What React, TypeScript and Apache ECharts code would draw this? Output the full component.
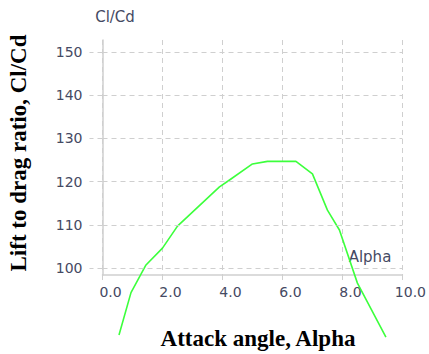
import React, { useEffect, useRef } from "react";
import * as echarts from "echarts";

const alpha = [0.55, 0.95, 1.45, 2.0, 2.5, 3.9, 4.2, 5.0, 5.5, 6.45, 7.0, 7.5, 7.9, 8.5, 9.45];
const ratio = [84.5, 94.3, 100.7, 104.6, 109.7, 118.8, 120.2, 124.1, 124.7, 124.7, 121.8, 113.4, 108.8, 96.5, 84.0];
const yTicks = [100, 110, 120, 130, 140, 150];
const xTicks = [0, 2, 4, 6, 8, 10];

const labelColor = "#454a63";
const gridColor = "#cfcfcf";

export default function App() {
  const ref = useRef<HTMLDivElement>(null);
  useEffect(() => {
    if (!ref.current) return;
    const chart = echarts.init(ref.current, null, { renderer: "svg" });
    chart.setOption({
      animation: false,
      backgroundColor: "#ffffff",
      grid: { left: 102.5, right: 24, top: 40, bottom: 79, containLabel: false },
      xAxis: {
        type: "value",
        min: xTicks[0],
        max: xTicks[xTicks.length - 1],
        interval: 2,
        axisLine: { show: true, lineStyle: { color: gridColor, width: 1.5 } },
        axisTick: { show: true, length: 5, lineStyle: { color: gridColor } },
        axisLabel: {
          color: labelColor,
          fontFamily: "DejaVu Sans",
          fontSize: 14,
          margin: 10,
          padding: [0, 0, 0, 16],
          formatter: (v: number) => v.toFixed(1),
        },
        splitLine: { show: true, lineStyle: { color: gridColor, type: [5, 4], width: 1 } },
      },
      yAxis: {
        type: "value",
        min: 98.38,
        max: 152.8,
        axisLine: { show: true, lineStyle: { color: gridColor, width: 1.5 } },
        axisTick: {
          show: true,
          customValues: yTicks,
          length: 13,
          lineStyle: { color: gridColor, type: [5, 4] },
        },
        axisLabel: {
          customValues: yTicks,
          color: labelColor,
          fontFamily: "DejaVu Sans",
          fontSize: 14,
          margin: 20,
          formatter: (v: number) => String(Math.round(v)),
        },
        splitLine: { show: false },
      },
      graphic: [
        {
          type: "text",
          x: 115,
          y: 17,
          style: {
            text: "Cl/Cd",
            fill: labelColor,
            font: "15px 'DejaVu Sans'",
            align: "center",
            verticalAlign: "middle",
          },
        },
        {
          type: "text",
          x: 370,
          y: 257,
          style: {
            text: "Alpha",
            fill: labelColor,
            font: "15px 'DejaVu Sans'",
            align: "center",
            verticalAlign: "middle",
          },
        },
        {
          type: "text",
          x: 258,
          y: 338,
          style: {
            text: "Attack angle, Alpha",
            fill: "#000000",
            font: "bold 23px 'Liberation Serif'",
            align: "center",
            verticalAlign: "middle",
          },
        },
        {
          type: "text",
          x: 18,
          y: 153,
          rotation: Math.PI / 2,
          style: {
            text: "Lift to drag ratio, Cl/Cd",
            fill: "#000000",
            font: "bold 23px 'Liberation Serif'",
            align: "center",
            verticalAlign: "middle",
          },
        },
      ],
      series: [
        {
          type: "line",
          data: [],
          z: 1,
          silent: true,
          markLine: {
            silent: true,
            symbol: ["none", "none"],
            label: { show: false },
            lineStyle: { color: gridColor, type: [5, 4], width: 1 },
            data: yTicks.map((v) => [{ coord: [0, v] }, { coord: [10, v] }]),
          },
        },
        {
          type: "line",
          z: 3,
          clip: false,
          showSymbol: false,
          symbol: "none",
          lineStyle: { color: "#3cff3c", width: 1.6 },
          data: alpha.map((a, i) => [a, ratio[i]]),
        },
      ],
    });
    return () => chart.dispose();
  }, []);
  return <div ref={ref} style={{ width: 429, height: 354, position: "absolute", left: 0, top: 0 }} />;
}
